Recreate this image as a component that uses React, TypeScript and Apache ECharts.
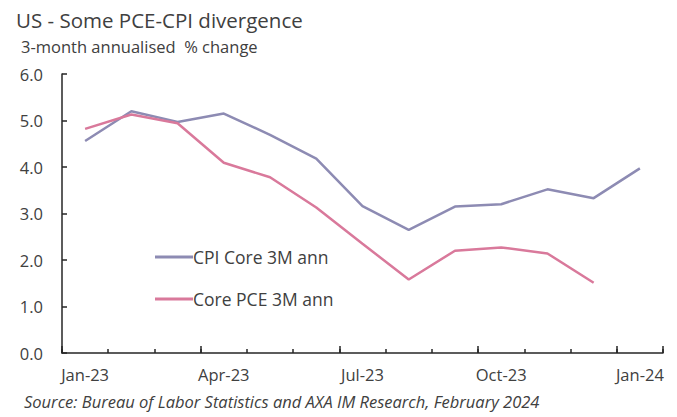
import React, { useEffect, useRef } from "react";
import * as echarts from "echarts";

const months = ["Jan-23","Feb-23","Mar-23","Apr-23","May-23","Jun-23","Jul-23","Aug-23","Sep-23","Oct-23","Nov-23","Dec-23","Jan-24"];
const cpiCore = [4.56, 5.20, 4.97, 5.15, 4.69, 4.18, 3.16, 2.65, 3.15, 3.20, 3.52, 3.33, 3.97];
const corePce = [4.82, 5.13, 4.94, 4.09, 3.78, 3.13, 2.35, 1.58, 2.20, 2.27, 2.14, 1.51, null];
const seriesNames = ["CPI Core 3M ann", "Core PCE 3M ann"];
const titleText = "US - Some PCE-CPI divergence";
const subtitleText = "3-month annualised  % change";
const sourceText = "Source: Bureau of Labor Statistics and AXA IM Research, February 2024";

const FONT = "'Open Sans', sans-serif";
const TXT = "#404040";

export default function App() {
  const ref = useRef<HTMLDivElement>(null);
  useEffect(() => {
    const chart = echarts.init(ref.current!, null, { renderer: "svg" });
    chart.setOption({
      animation: false,
      backgroundColor: "#ffffff",
      textStyle: { fontFamily: FONT },
      grid: { left: 62, right: 14, top: 74, bottom: 64 },
      graphic: [
        { type: "text", left: 16, top: 9, style: { text: titleText, font: `20.5px ${FONT}`, fill: TXT } },
        { type: "text", left: 21, top: 38, style: { text: subtitleText, font: `16.5px ${FONT}`, fill: TXT } },
        { type: "text", left: 24, top: 393, style: { text: sourceText, font: `italic 16.5px ${FONT}`, fill: TXT } },
      ],
      legend: {
        orient: "vertical",
        left: 155,
        top: 248,
        padding: 0,
        itemWidth: 38,
        itemHeight: 3,
        itemGap: 24,
        icon: "rect",
        textStyle: { fontSize: 17.5, color: TXT, fontFamily: FONT, padding: [0, 0, 0, -5] },
        data: seriesNames,
      },
      xAxis: [
        {
          type: "category",
          data: months,
          boundaryGap: true,
          axisLine: { lineStyle: { color: "#262626", width: 1.5 } },
          axisTick: { show: true, inside: true, interval: 2, length: 7, lineStyle: { color: "#262626", width: 1.5 } },
          axisLabel: { interval: 2, color: TXT, fontSize: 16.5, margin: 13, fontFamily: FONT },
        },
        {
          type: "category",
          data: months,
          boundaryGap: true,
          position: "bottom",
          axisLine: { show: false },
          axisTick: { show: true, inside: true, interval: 0, length: 4, lineStyle: { color: "#262626", width: 1.5 } },
          axisLabel: { show: false },
        },
      ],
      yAxis: {
        type: "value",
        min: 0,
        max: 6,
        interval: 1,
        splitLine: { show: false },
        axisLine: { show: true, lineStyle: { color: "#262626", width: 1.5 } },
        axisTick: { show: true, inside: true, length: 5, lineStyle: { color: "#262626", width: 1.5 } },
        axisLabel: { color: TXT, fontSize: 16.5, margin: 19, fontFamily: FONT, formatter: (v: number) => v.toFixed(1) },
      },
      series: [
        {
          name: seriesNames[0],
          type: "line",
          data: cpiCore,
          symbol: "none",
          lineStyle: { color: "#8d8bb3", width: 2.5 },
          itemStyle: { color: "#8d8bb3" },
        },
        {
          name: seriesNames[1],
          type: "line",
          data: corePce,
          symbol: "none",
          lineStyle: { color: "#d9799b", width: 2.5 },
          itemStyle: { color: "#d9799b" },
        },
      ],
    });
    return () => chart.dispose();
  }, []);
  return <div ref={ref} style={{ width: 677, height: 417, position: "absolute", left: 0, top: 0 }} />;
}
